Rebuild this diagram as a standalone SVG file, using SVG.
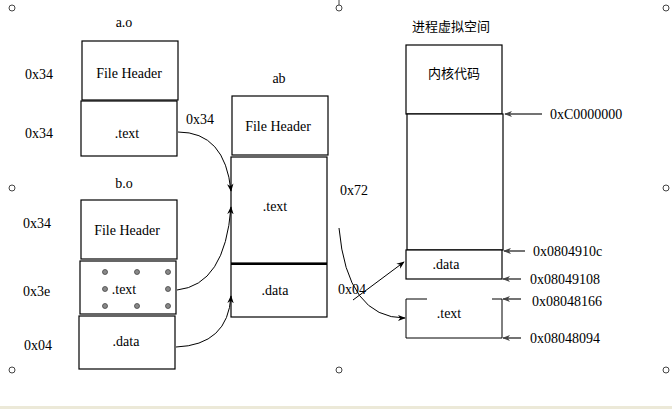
<svg xmlns="http://www.w3.org/2000/svg" width="672" height="409" viewBox="0 0 672 409">
<defs>
<marker id="ah" viewBox="0 0 10 10" refX="9" refY="5" markerWidth="8" markerHeight="8" orient="auto" markerUnits="userSpaceOnUse"><path d="M0,1 L10,5 L0,9 L3,5 z" fill="#000"/></marker>
<marker id="ahg" viewBox="0 0 10 10" refX="9" refY="5" markerWidth="8" markerHeight="8" orient="auto" markerUnits="userSpaceOnUse"><path d="M0,1 L10,5 L0,9 L3,5 z" fill="#444"/></marker>
</defs>
<style>
text{font-family:"Liberation Serif","Times New Roman","DejaVu Serif",serif;font-size:14px;fill:#000}
.cjk{font-family:"Noto Sans CJK SC",sans-serif;font-size:13px}
.box{fill:#fff;stroke:#000;stroke-width:1.2}
.c{text-anchor:middle}
.h{fill:#fff;stroke:#444;stroke-width:1}
.dot{fill:#888;stroke:#444;stroke-width:0.8}
.conn{fill:none;stroke:#000;stroke-width:1}
.gconn{fill:none;stroke:#444;stroke-width:1.5}
</style>
<rect width="672" height="409" fill="#fff"/>
<rect x="0" y="406" width="672" height="3" fill="#ece9d8"/>
<g id="handles">
<line x1="339" y1="0" x2="339" y2="5" stroke="#444"/>
<circle class="h" cx="12" cy="8" r="3"/><circle class="h" cx="339" cy="8" r="3"/><circle class="h" cx="666" cy="8" r="3"/>
<circle class="h" cx="12" cy="188" r="3"/><circle class="h" cx="666" cy="188" r="3"/>
<circle class="h" cx="12" cy="370" r="3"/><circle class="h" cx="339" cy="370" r="3"/><circle class="h" cx="666" cy="370" r="3"/>
</g>
<g id="ao">
<text class="c" x="124" y="27">a.o</text>
<rect class="box" x="82" y="41" width="96" height="59"/>
<text class="c" x="129" y="78">File Header</text>
<rect class="box" x="81" y="101" width="96" height="55"/>
<text class="c" x="127" y="138">.text</text>
<text x="25" y="79">0x34</text>
<text x="25" y="138">0x34</text>
</g>
<g id="bo">
<text class="c" x="124" y="188">b.o</text>
<rect class="box" x="81" y="200" width="96" height="59"/>
<text class="c" x="127" y="235">File Header</text>
<rect class="box" x="80" y="261" width="96" height="53"/>
<text class="c" x="124" y="294">.text</text>
<g class="dot">
<circle cx="105" cy="272" r="2.5"/><circle cx="137" cy="272" r="2.5"/><circle cx="168" cy="272" r="2.5"/>
<circle cx="105" cy="289" r="2.5"/><circle cx="168" cy="289" r="2.5"/>
<circle cx="105" cy="306" r="2.5"/><circle cx="137" cy="306" r="2.5"/><circle cx="168" cy="306" r="2.5"/>
</g>
<rect class="box" x="79" y="316" width="96" height="53"/>
<text class="c" x="126" y="346">.data</text>
<text x="23" y="228">0x34</text>
<text x="23" y="296">0x3e</text>
<text x="24" y="350">0x04</text>
</g>
<g id="ab">
<text class="c" x="279" y="83">ab</text>
<rect class="box" x="232" y="96" width="96" height="59"/>
<text class="c" x="278" y="131">File Header</text>
<rect class="box" x="231" y="157" width="96" height="106"/>
<text class="c" x="275" y="211">.text</text>
<rect class="box" x="231" y="264" width="96" height="53"/>
<line x1="231" y1="264" x2="327" y2="264" stroke="#000" stroke-width="2"/>
<text class="c" x="275" y="295">.data</text>
</g>
<g id="vspace">
<text class="cjk" x="412" y="31">进程虚拟空间</text>
<rect class="box" x="406" y="45" width="96" height="69"/>
<text class="cjk c" x="454" y="78">内核代码</text>
<rect class="box" x="407" y="114" width="96" height="136"/>
<rect class="box" x="406" y="250" width="96" height="29"/>
<text class="c" x="446" y="269">.data</text>
<path class="conn" d="M427,299 H406 V338 H502 V299 H492" stroke-width="1.2"/>
<text class="c" x="449" y="318">.text</text>
</g>
<g id="labels">
<text x="186" y="124">0x34</text>
<text x="340" y="195">0x72</text>
<text x="338" y="294">0x04</text>
<text x="550" y="119">0xC0000000</text>
<text x="533" y="256">0x0804910c</text>
<text x="530" y="284">0x08049108</text>
<text x="532" y="306">0x08048166</text>
<text x="530" y="343">0x08048094</text>
</g>
<g id="connectors">
<path class="conn" d="M178,132 Q225,132 231,191" marker-end="url(#ah)"/>
<path class="conn" d="M177,290 Q225,285 231,207" marker-end="url(#ah)"/>
<path class="conn" d="M176,347 Q228,345 231,296" marker-end="url(#ah)"/>
<path class="conn" d="M339,228 Q347,318 405,318" marker-end="url(#ah)"/>
<path class="conn" d="M353,300 L404,262" marker-end="url(#ah)"/>
<line class="gconn" x1="542" y1="114" x2="505" y2="114" marker-end="url(#ahg)"/>
<line class="gconn" x1="525" y1="251" x2="504" y2="251" marker-end="url(#ahg)"/>
<line class="gconn" x1="521" y1="279" x2="503" y2="279" marker-end="url(#ahg)"/>
<line class="gconn" x1="521" y1="299" x2="503" y2="299" marker-end="url(#ahg)"/>
<line class="gconn" x1="521" y1="338" x2="503" y2="338" marker-end="url(#ahg)"/>
</g>
</svg>
